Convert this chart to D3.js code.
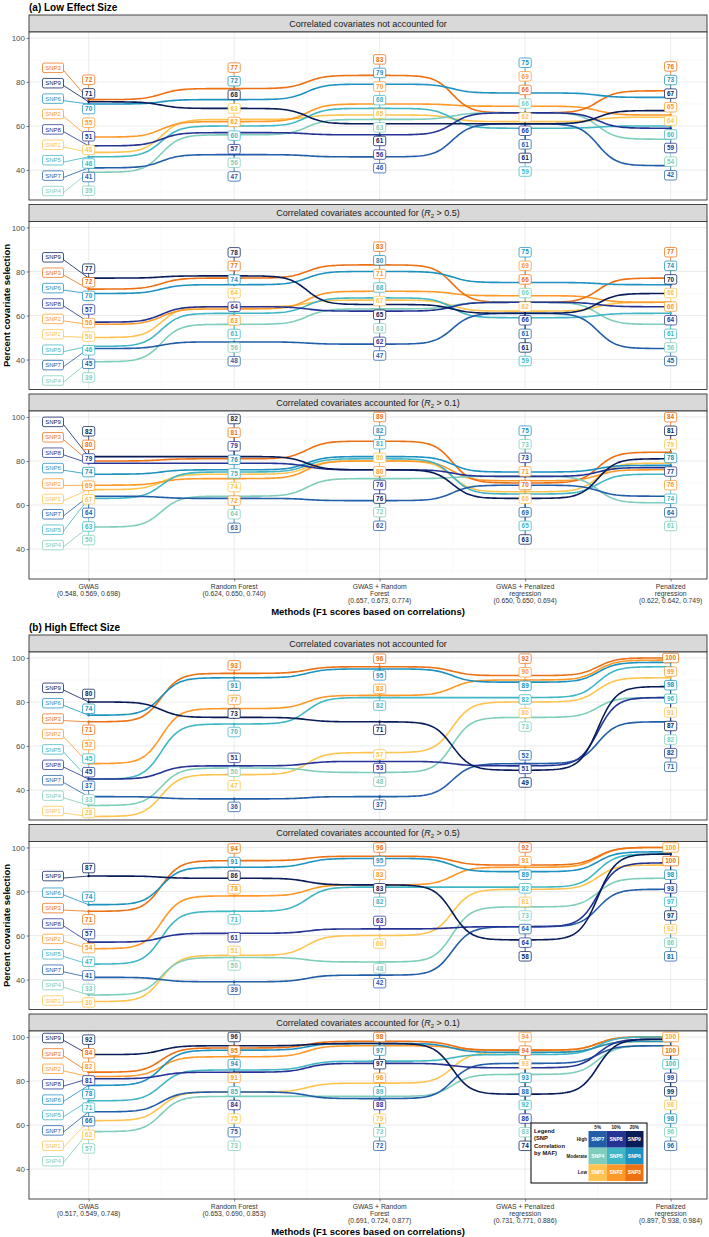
<!DOCTYPE html>
<html><head><meta charset="utf-8">
<script src="https://cdn.jsdelivr.net/npm/d3@7"></script>
<style>
body{margin:0;background:#fff}
svg{display:block}
text{font-family:"Liberation Sans", Arial, Helvetica, sans-serif}
</style>
</head><body>
<svg id="chart" width="709" height="1237"></svg>
<script>
// ---------------- data ----------------
const methods = ["GWAS", "Random Forest", "GWAS + Random Forest", "GWAS + Penalized regression", "Penalized regression"];
const methodLines = [["GWAS"], ["Random Forest"], ["GWAS + Random", "Forest"], ["GWAS + Penalized", "regression"], ["Penalized", "regression"]];
const lowF1 = ["(0.548, 0.569, 0.698)", "(0.624, 0.650, 0.740)", "(0.657, 0.673, 0.774)", "(0.650, 0.650, 0.694)", "(0.622, 0.642, 0.749)"];
const highF1 = ["(0.517, 0.549, 0.748)", "(0.653, 0.690, 0.853)", "(0.691, 0.724, 0.877)", "(0.731, 0.771, 0.886)", "(0.897, 0.938, 0.984)"];
const snps = ["SNP1", "SNP2", "SNP3", "SNP4", "SNP5", "SNP6", "SNP7", "SNP8", "SNP9"];
const snpColors = ["#fec44f", "#fe9929", "#ec7014", "#7fcdbb", "#41b6c4", "#1d91c0", "#225ea8", "#253494", "#081d58"];
const yTicks = [40, 60, 80, 100];
const stripThresholds = [null, "0.5", "0.1"];

// rows: SNP1..SNP9, columns: methods
const lowNotAccounted = [
  [48, 63, 65, 62, 64],
  [55, 62, 70, 69, 65],
  [72, 77, 83, 66, 76],
  [39, 56, 63, 66, 54],
  [46, 60, 68, 59, 60],
  [70, 72, 79, 75, 73],
  [41, 47, 46, 61, 42],
  [51, 57, 56, 66, 59],
  [71, 68, 61, 61, 67]
];
const lowR05 = [
  [50, 64, 67, 62, 66],
  [56, 63, 71, 69, 66],
  [72, 77, 83, 66, 77],
  [39, 56, 63, 66, 56],
  [46, 61, 68, 59, 61],
  [70, 74, 80, 75, 74],
  [45, 48, 47, 61, 45],
  [57, 64, 62, 66, 64],
  [77, 78, 65, 61, 70]
];
const lowR01 = [
  [67, 74, 80, 66, 79],
  [69, 72, 80, 71, 76],
  [80, 81, 89, 70, 84],
  [50, 64, 72, 73, 61],
  [63, 75, 81, 65, 74],
  [74, 76, 82, 75, 78],
  [64, 63, 62, 69, 64],
  [79, 79, 76, 73, 77],
  [82, 82, 76, 63, 81]
];
const highNotAccounted = [
  [28, 47, 57, 80, 91],
  [52, 77, 83, 90, 99],
  [71, 93, 96, 92, 100],
  [33, 50, 48, 73, 82],
  [45, 70, 82, 82, 96],
  [74, 91, 95, 89, 98],
  [37, 36, 37, 52, 71],
  [45, 51, 53, 51, 82],
  [80, 73, 71, 49, 87]
];
const highR05 = [
  [30, 51, 60, 81, 92],
  [54, 78, 83, 91, 100],
  [71, 94, 96, 92, 100],
  [33, 50, 48, 73, 86],
  [47, 71, 82, 82, 97],
  [74, 91, 95, 89, 98],
  [41, 39, 42, 64, 81],
  [57, 61, 63, 64, 93],
  [87, 86, 83, 58, 97]
];
const highR01 = [
  [62, 75, 79, 93, 98],
  [82, 91, 96, 94, 100],
  [84, 95, 98, 94, 100],
  [57, 73, 73, 83, 96],
  [71, 85, 89, 92, 100],
  [78, 94, 97, 93, 98],
  [66, 75, 72, 88, 96],
  [81, 84, 88, 86, 99],
  [92, 96, 97, 74, 99]
];
const legendRows = ["High", "Moderate", "Low"];
const legendCols = ["5%", "10%", "20%"];
const legendGrid = [["SNP7", "SNP8", "SNP9"], ["SNP4", "SNP5", "SNP6"], ["SNP1", "SNP2", "SNP3"]];

// ---------------- layout ----------------
const svg = d3.select("#chart");
const PL = 29, PR = 707, PLOT_H = 168, STRIP_H = 17, PANEL_STEP = 189.5;
const x = d3.scaleLinear().domain([0.59, 5.25]).range([PL, PR]);
const color = d3.scaleOrdinal().domain(snps).range(snpColors);

const sections = [
  {title: "(a) Low Effect Size", offset: 0, f1: lowF1, data: [lowNotAccounted, lowR05, lowR01]},
  {title: "(b) High Effect Size", offset: 620, f1: highF1, data: [highNotAccounted, highR05, highR01]}
];

function bumpPoints(xs, ys, smooth = 8, n = 60) {
  const out = [];
  for (let i = 0; i < xs.length - 1; i++) {
    for (let k = 0; k < n; k++) {
      if (i > 0 && k === 0) continue;
      const t = k / (n - 1);
      const s = -smooth + 2 * smooth * t;
      const l = 1 / (1 + Math.exp(-s));
      out.push([xs[i] + (xs[i + 1] - xs[i]) * t, ys[i] + (ys[i + 1] - ys[i]) * l]);
    }
  }
  return out;
}

// enforce a minimum spacing d between sorted positions, inside [lo, hi]
function project(p, lo, hi, d) {
  const n = p.length;
  const idx = d3.range(n).sort((a, b) => (p[a] - p[b]) || (a - b));
  const w = idx.map((i, r) => p[i] - r * d);
  const blocks = [];
  for (const val of w) {
    blocks.push({s: val, c: 1});
    while (blocks.length > 1) {
      const a = blocks[blocks.length - 2], b = blocks[blocks.length - 1];
      if (a.s / a.c > b.s / b.c) { blocks.pop(); a.s += b.s; a.c += b.c; } else break;
    }
  }
  const q = [];
  blocks.forEach(b => { for (let k = 0; k < b.c; k++) q.push(b.s / b.c); });
  for (let r = 0; r < n; r++) q[r] += r * d;
  for (let r = 0; r < n; r++) q[r] = Math.max(q[r], r === 0 ? lo : q[r - 1] + d);
  for (let r = n - 1; r >= 0; r--) q[r] = Math.min(q[r], r === n - 1 ? hi : q[r + 1] - d);
  const out = new Array(n);
  idx.forEach((orig, r) => { out[orig] = q[r]; });
  return out;
}

// simple 1-D label repulsion (ggrepel-like)
function repel(targets, points, lo, hi, LL, LP) {
  const n = targets.length;
  const order = d3.range(n).sort((a, b) => (targets[a] - targets[b]) || (a - b));
  const rank = new Array(n); order.forEach((idx, r) => { rank[idx] = r; });
  const p = targets.slice();
  order.forEach((idx, r) => { p[idx] += (r - (n - 1) / 2) * 0.05; });
  const N = 2000;
  for (let it = 0; it < N; it++) {
    const f = new Array(n).fill(0);
    for (let i = 0; i < n; i++) {
      for (let j = i + 1; j < n; j++) {
        const d = p[j] - p[i];
        const ad = Math.abs(d);
        if (ad < LL) {
          const s = d > 0 ? 1 : (d < 0 ? -1 : (rank[j] > rank[i] ? 1 : -1));
          const m = (LL - ad) / 2;
          f[i] -= s * m; f[j] += s * m;
        }
      }
      for (const q of points) {
        const d = p[i] - q;
        const ad = Math.abs(d);
        if (ad < LP) {
          const s = d >= 0 ? 1 : -1;
          f[i] += s * (LP - ad) * 0.5;
        }
      }
      f[i] += (targets[i] - p[i]) * 0.03;
    }
    const step = 0.35 * (1 - it / N) + 0.03;
    for (let i = 0; i < n; i++) {
      p[i] = Math.max(lo, Math.min(hi, p[i] + f[i] * step));
    }
  }
  return project(p, lo, hi, LL);
}

function drawLabel(g, cx, cy, txt, col, opt) {
  const w = opt.w || (txt.length * 3.7 + 4.8);
  const h = opt.h || 9;
  g.append("rect").attr("x", cx - w / 2).attr("y", cy - h / 2).attr("width", w).attr("height", h)
    .attr("rx", 1.6).attr("fill", "#fff").attr("stroke", col).attr("stroke-width", 0.75);
  g.append("text").attr("x", cx).attr("y", cy).attr("dy", "0.35em").attr("text-anchor", "middle")
    .attr("font-size", opt.fs).attr("font-weight", opt.bold ? "bold" : "normal").attr("fill", col).text(txt);
}

sections.forEach(sec => {
  const off = sec.offset;
  svg.append("text").attr("x", PL).attr("y", off + 11).attr("font-size", 10).attr("font-weight", "bold")
    .attr("fill", "#000").text(sec.title);

  sec.data.forEach((panelData, k) => {
    const top = off + 32 + PANEL_STEP * k;
    const bottom = top + PLOT_H;
    const y = d3.scaleLinear().domain([26.4, 102.7]).range([bottom, top]);
    const g = svg.append("g");

    // strip
    g.append("rect").attr("x", PL).attr("y", top - STRIP_H).attr("width", PR - PL).attr("height", STRIP_H)
      .attr("fill", "#d9d9d9").attr("stroke", "#333").attr("stroke-width", 0.9);
    const st = g.append("text").attr("x", (PL + PR) / 2).attr("y", top - STRIP_H / 2).attr("dy", "0.35em")
      .attr("text-anchor", "middle").attr("font-size", 9).attr("fill", "#1a1a1a");
    if (stripThresholds[k] === null) {
      st.text("Correlated covariates not accounted for");
    } else {
      st.append("tspan").text("Correlated covariates accounted for (");
      st.append("tspan").attr("font-style", "italic").text("R");
      st.append("tspan").attr("font-size", 6).attr("dy", 2).text("2");
      st.append("tspan").attr("dy", -2).text(" > " + stripThresholds[k] + ")");
    }

    // panel background + grid
    g.append("rect").attr("x", PL).attr("y", top).attr("width", PR - PL).attr("height", PLOT_H).attr("fill", "#fff");
    g.selectAll(".gmy").data([30, 50, 70, 90]).enter().append("line")
      .attr("x1", PL).attr("x2", PR).attr("y1", d => y(d)).attr("y2", d => y(d))
      .attr("stroke", "#f3f3f3").attr("stroke-width", 0.5);
    g.selectAll(".gmx").data([1.5, 2.5, 3.5, 4.5]).enter().append("line")
      .attr("y1", top).attr("y2", bottom).attr("x1", d => x(d)).attr("x2", d => x(d))
      .attr("stroke", "#f3f3f3").attr("stroke-width", 0.5);
    g.selectAll(".gy").data(yTicks).enter().append("line")
      .attr("x1", PL).attr("x2", PR).attr("y1", d => y(d)).attr("y2", d => y(d))
      .attr("stroke", "#e6e6e6").attr("stroke-width", 0.8);
    g.selectAll(".gx").data(d3.range(1, 6)).enter().append("line")
      .attr("y1", top).attr("y2", bottom).attr("x1", d => x(d)).attr("x2", d => x(d))
      .attr("stroke", "#e6e6e6").attr("stroke-width", 0.8);

    // y axis
    const ya = g.append("g").attr("transform", `translate(${PL},0)`)
      .call(d3.axisLeft(y).tickValues(yTicks).tickSize(2.5).tickPadding(1.5));
    ya.select(".domain").remove();
    ya.selectAll("line").attr("stroke", "#333").attr("stroke-width", 0.6);
    ya.selectAll("text").attr("font-size", 8).attr("fill", "#4d4d4d").attr("font-family", "Liberation Sans, Arial, sans-serif");

    // bump lines
    const line = d3.line().curve(d3.curveLinear);
    const xs = d3.range(1, 6).map(v => x(v));
    panelData.forEach((vals, si) => {
      g.append("path").attr("d", line(bumpPoints(xs, vals.map(v => y(v)))))
        .attr("fill", "none").attr("stroke", snpColors[si]).attr("stroke-width", 1.6)
        .attr("stroke-linecap", "round");
    });

    const segG = g.append("g");
    const ptG = g.append("g");
    const lblG = svg.append("g");
    const lo = top + 6, hi = bottom - 7;
    for (let c = 0; c < 5; c++) {
      const pts = panelData.map(v => y(v[c]));
      const pos = repel(pts, pts, lo, hi, 13.6, 8.5);
      panelData.forEach((vals, si) => {
        const cx = xs[c];
        if (Math.abs(pos[si] - pts[si]) > 4.6) {
          segG.append("line").attr("x1", cx).attr("x2", cx).attr("y1", pos[si]).attr("y2", pts[si])
            .attr("stroke", snpColors[si]).attr("stroke-width", 0.7);
        }
        drawLabel(lblG, cx, pos[si], String(vals[c]), snpColors[si], {fs: 6.4, bold: true, h: 9.5});
      });
    }
    panelData.forEach((vals, si) => {
      vals.forEach((v, c) => {
        ptG.append("circle").attr("cx", xs[c]).attr("cy", y(v)).attr("r", 1.3).attr("fill", snpColors[si]);
      });
    });

    // SNP name labels on the left
    const first = panelData.map(v => y(v[0]));
    const spos = repel(first, [], top + 7, bottom - 9, 15.4, 0);
    const lx = 53;
    panelData.forEach((vals, si) => {
      segG.append("line").attr("x1", lx + 10).attr("y1", spos[si] + 2).attr("x2", xs[0]).attr("y2", first[si])
        .attr("stroke", snpColors[si]).attr("stroke-width", 0.8);
      drawLabel(lblG, lx, spos[si], snps[si], snpColors[si], {fs: 6, bold: false, w: 21, h: 9.5});
    });

    // panel border
    svg.append("rect").attr("x", PL).attr("y", top).attr("width", PR - PL).attr("height", PLOT_H)
      .attr("fill", "none").attr("stroke", "#333").attr("stroke-width", 0.9);

    if (k === 2) {
      const xa = svg.append("g").attr("transform", `translate(0,${bottom})`)
        .call(d3.axisBottom(x).tickValues(d3.range(1, 6)).tickSize(2.5).tickFormat(""));
      xa.select(".domain").remove();
      xa.selectAll("line").attr("stroke", "#333").attr("stroke-width", 0.6);
      methodLines.forEach((lines, c) => {
        const all = lines.concat([sec.f1[c]]);
        const t = svg.append("text").attr("text-anchor", "middle").attr("font-size", 6.8).attr("fill", "#333");
        all.forEach((ln, li) => {
          t.append("tspan").attr("x", x(c + 1)).attr("y", bottom + 9.5 + li * 7.3).text(ln);
        });
      });
      svg.append("text").attr("x", (PL + PR) / 2).attr("y", bottom + 35.5).attr("text-anchor", "middle")
        .attr("font-size", 9.5).attr("font-weight", "bold").attr("fill", "#000")
        .text("Methods (F1 scores based on correlations)");
    }
  });

  const cy = off + 32 + PANEL_STEP + PLOT_H / 2;
  svg.append("text").attr("transform", `translate(10,${cy}) rotate(-90)`).attr("text-anchor", "middle")
    .attr("font-size", 9.5).attr("font-weight", "bold").attr("fill", "#000").text("Percent covariate selection");
});

// ---------------- legend ----------------
const lg = svg.append("g").attr("transform", "translate(531,1123)");
lg.append("rect").attr("width", 116).attr("height", 60).attr("fill", "#fff").attr("stroke", "#000").attr("stroke-width", 1);
["Legend", "(SNP", "Correlation", "by MAF)"].forEach((t, i) => {
  lg.append("text").attr("x", 3).attr("y", 10 + i * 7.3).attr("font-size", 5.8).attr("font-weight", "bold")
    .attr("fill", "#111").text(t);
});
const tx = d3.scaleBand().domain(legendCols).range([57.5, 112.5]);
const ty = d3.scaleBand().domain(legendRows).range([8, 58]);
legendCols.forEach(c => {
  lg.append("text").attr("x", tx(c) + tx.bandwidth() / 2).attr("y", 5.6).attr("text-anchor", "middle")
    .attr("font-size", 4.6).attr("font-weight", "bold").attr("fill", "#111").text(c);
});
legendRows.forEach(r => {
  lg.append("text").attr("x", 56).attr("y", ty(r) + ty.bandwidth() / 2).attr("dy", "0.35em").attr("text-anchor", "end")
    .attr("font-size", 4.6).attr("font-weight", "bold").attr("fill", "#111").text(r);
  legendCols.forEach((c, ci) => {
    const name = legendGrid[legendRows.indexOf(r)][ci];
    lg.append("rect").attr("x", tx(c)).attr("y", ty(r)).attr("width", tx.bandwidth()).attr("height", ty.bandwidth())
      .attr("fill", color(name));
    lg.append("text").attr("x", tx(c) + tx.bandwidth() / 2).attr("y", ty(r) + ty.bandwidth() / 2).attr("dy", "0.35em")
      .attr("text-anchor", "middle").attr("font-size", 5).attr("font-weight", "bold").attr("fill", "#fff").text(name);
  });
});
</script>
</body></html>
